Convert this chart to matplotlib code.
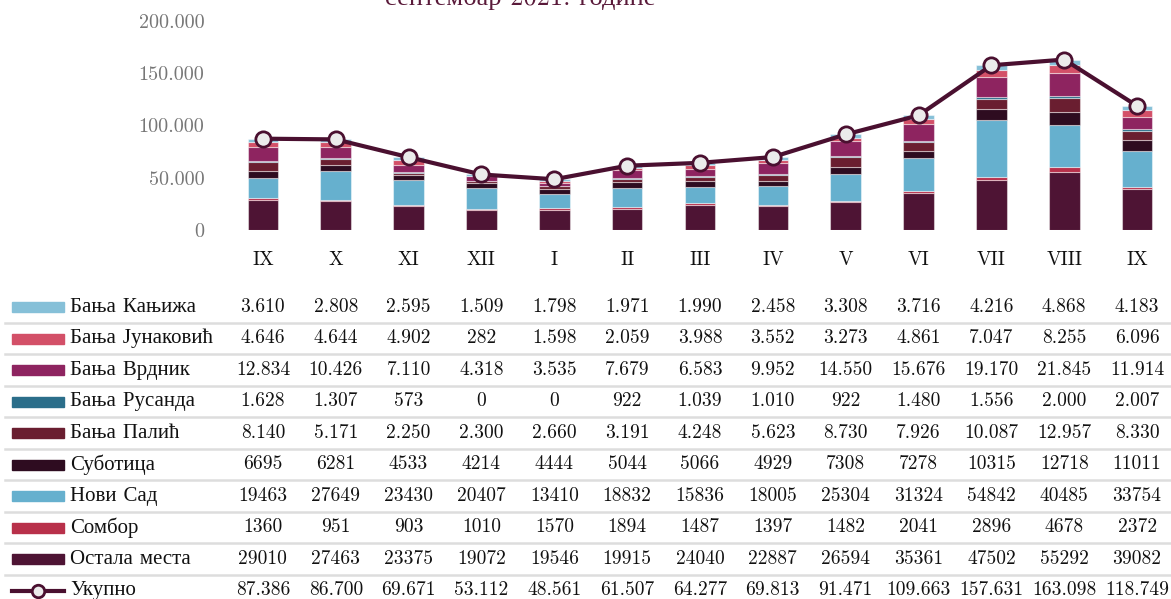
import matplotlib
matplotlib.use("agg")
from matplotlib import pyplot as plt
from matplotlib.patches import Rectangle
from matplotlib.lines import Line2D
from matplotlib.transforms import blended_transform_factory
import numpy as np

plt.rcParams['font.family'] = ['cmr10', 'Liberation Serif']
plt.rcParams['axes.formatter.use_mathtext'] = False

months = ["IX", "X", "XI", "XII", "I", "II", "III", "IV", "V", "VI", "VII", "VIII", "IX"]

# stacked from bottom to top
series_names = ["Остала места", "Сомбор", "Нови Сад", "Суботица", "Бања Палић",
                "Бања Русанда", "Бања Врдник", "Бања Јунаковић", "Бања Кањижа"]
ostala = [29010, 27463, 23375, 19072, 19546, 19915, 24040, 22887, 26594, 35361, 47502, 55292, 39082]
sombor = [1360, 951, 903, 1010, 1570, 1894, 1487, 1397, 1482, 2041, 2896, 4678, 2372]
novi_sad = [19463, 27649, 23430, 20407, 13410, 18832, 15836, 18005, 25304, 31324, 54842, 40485, 33754]
subotica = [6695, 6281, 4533, 4214, 4444, 5044, 5066, 4929, 7308, 7278, 10315, 12718, 11011]
palic = [8140, 5171, 2250, 2300, 2660, 3191, 4248, 5623, 8730, 7926, 10087, 12957, 8330]
rusanda = [1628, 1307, 573, 0, 0, 922, 1039, 1010, 922, 1480, 1556, 2000, 2007]
vrdnik = [12834, 10426, 7110, 4318, 3535, 7679, 6583, 9952, 14550, 15676, 19170, 21845, 11914]
junakovic = [4646, 4644, 4902, 282, 1598, 2059, 3988, 3552, 3273, 4861, 7047, 8255, 6096]
kanjiza = [3610, 2808, 2595, 1509, 1798, 1971, 1990, 2458, 3308, 3716, 4216, 4868, 4183]
ukupno = [87386, 86700, 69671, 53112, 48561, 61507, 64277, 69813, 91471, 109663, 157631, 163098, 118749]

series = [ostala, sombor, novi_sad, subotica, palic, rusanda, vrdnik, junakovic, kanjiza]
colors = ["#4e1434", "#b8304a", "#66b0ce", "#2e0c20", "#6a1e30",
          "#2b6e8a", "#8e2460", "#d35068", "#86c0d8"]
dotted = [False, False, False, False, True, True, True, True, True]

W, H = 1171, 599
fig = plt.figure(figsize=(W / 100, H / 100), dpi=100)
ax = fig.add_axes([226.5 / W, 1 - 230 / H, (1173.5 - 226.5) / W, (230 - 21) / H])

x = np.arange(len(months))
bottom = np.zeros(len(months))
for vals, c in zip(series, colors):
    ax.bar(x, vals, 0.42, bottom=bottom, color=c, edgecolor=(1, 1, 1, 0.45), lw=0.8, zorder=2)
    bottom += np.array(vals)
ax.plot(x, ukupno, color="#4a1030", lw=3, marker='o', ms=11, mfc="#ebebeb",
        mec="#4a1030", mew=2, zorder=3)

ax.set_xlim(-0.5, len(months) - 0.5)
ax.set_ylim(0, 200000)
ax.set_yticks([0, 50000, 100000, 150000, 200000])
ax.set_yticklabels(["{:,}".format(v).replace(",", ".") for v in ax.get_yticks().astype(int)],
                   fontsize=14.5, color="#777777")
ax.set_xticks([])
ax.tick_params(axis='y', length=0, pad=16)
for s in ax.spines.values():
    s.set_visible(False)

# title, cut off at the top edge as in the source
fig.text(520 / W, 1 - 5 / H, "септембар 2021. године", ha='center', va='baseline',
         fontsize=19, color="#5a1a3a")

# table under the chart
tr = blended_transform_factory(ax.transData, fig.transFigure)
fs = 14
for i, m in enumerate(months):
    ax.text(i, 1 - 260 / H, m, transform=tr, ha='center', va='center', fontsize=fs,
            color="#111111", clip_on=False)

row_y0 = 307
row_h = 31.5
rows = list(range(len(series) - 1, -1, -1))
for r, si in enumerate(rows):
    yc = row_y0 + r * row_h
    fy = 1 - yc / H
    fig.patches.append(Rectangle((12 / W, fy - 5 / H), 52 / W, 10 / H,
                                 color=colors[si], transform=fig.transFigure))
    fig.text(70 / W, fy, series_names[si], ha='left', va='center', fontsize=15, color="#111111")
    for i, v in enumerate(series[si]):
        s = "{:,}".format(v).replace(",", ".") if dotted[si] else str(v)
        ax.text(i, fy, s, transform=tr, ha='center', va='center', fontsize=fs,
                color="#111111", clip_on=False)
    ly = 1 - (yc + row_h / 2) / H
    fig.add_artist(Line2D([5 / W, 1], [ly, ly], color="#dddddd", lw=1.8,
                          transform=fig.transFigure))

yc = row_y0 + len(series) * row_h
fy = 1 - yc / H
fig.add_artist(Line2D([12 / W, 64 / W], [fy, fy], color="#4a1030", lw=3,
                      transform=fig.transFigure))
fig.add_artist(Line2D([38 / W], [fy], marker='o', ms=9, mfc="#ebebeb", mec="#4a1030",
                      mew=2, transform=fig.transFigure))
fig.text(70 / W, fy, "Укупно", ha='left', va='center', fontsize=15, color="#111111")
for i, v in enumerate(ukupno):
    ax.text(i, fy, "{:,}".format(v).replace(",", "."), transform=tr, ha='center',
            va='center', fontsize=fs, color="#111111", clip_on=False)

fig.savefig("out.png", dpi=100)
